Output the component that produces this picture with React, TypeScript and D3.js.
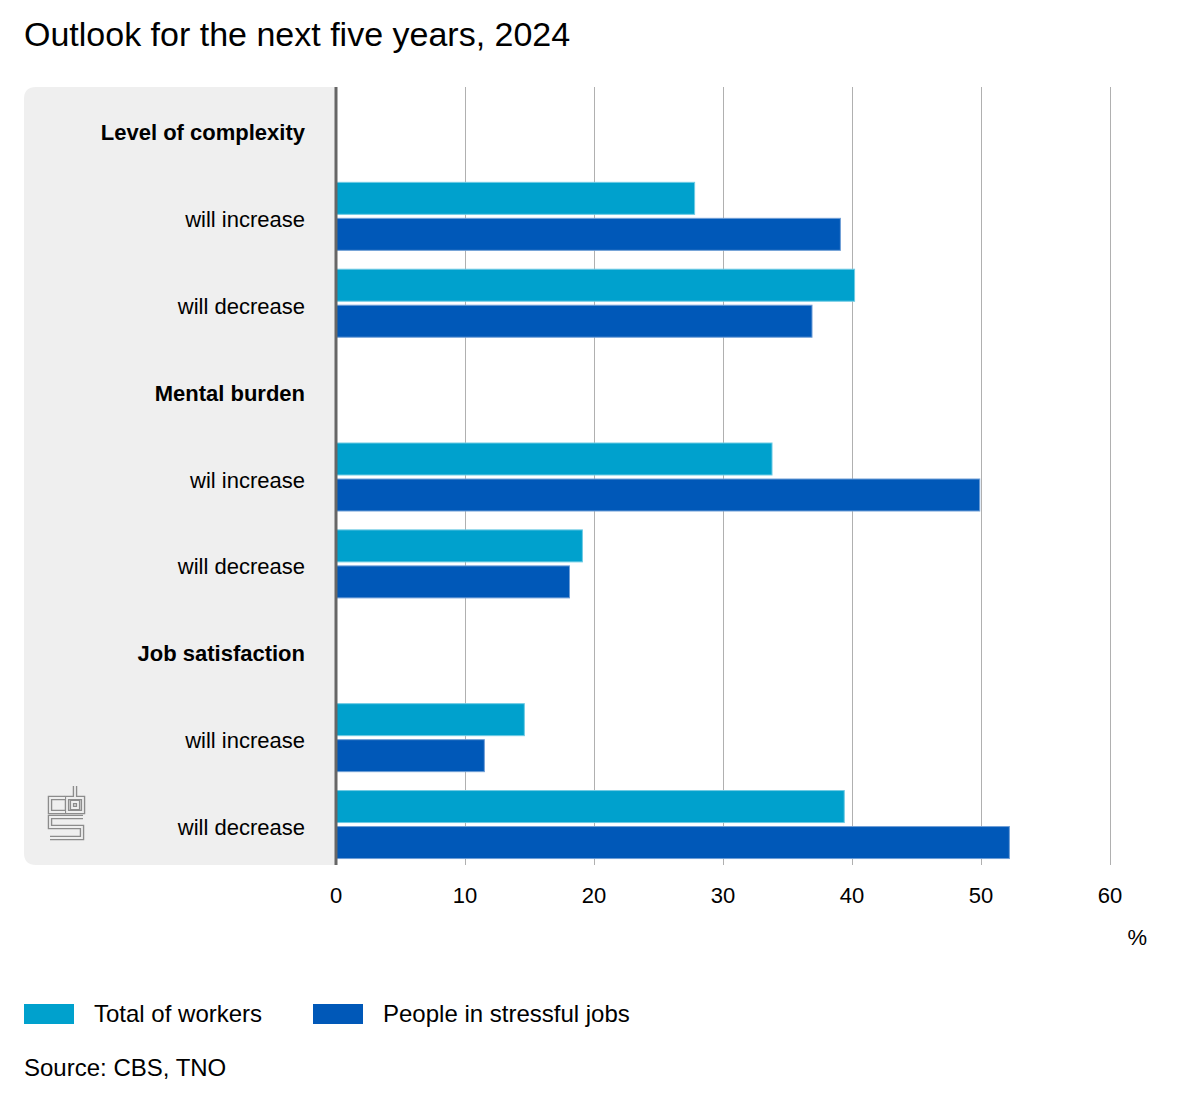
import { useEffect, useRef } from "react";
import * as d3 from "d3";

const rowLabels = [
  "Level of complexity",
  "will increase",
  "will decrease",
  "Mental burden",
  "wil increase",
  "will decrease",
  "Job satisfaction",
  "will increase",
  "will decrease",
];
const headerRows = [0, 3, 6];
const seriesNames = ["Total of workers", "People in stressful jobs"];
const seriesColors = ["#00a1cd", "#0058b8"];
// null for header rows
const totalWorkers = [null, 27.8, 40.2, null, 33.8, 19.1, null, 14.6, 39.4];
const stressfulJobs = [null, 39.1, 36.9, null, 49.9, 18.1, null, 11.5, 52.2];
const xTicks = [0, 10, 20, 30, 40, 50, 60];

const W = 1200;
const H = 1100;
const FONT = "'Liberation Sans', Arial, Helvetica, sans-serif";

export default function App() {
  const svgRef = useRef<SVGSVGElement>(null);

  useEffect(() => {
    if (!svgRef.current) return;
    const svg = d3.select(svgRef.current);
    svg.selectAll("*").remove();

    const panelLeft = 24;
    const plotLeft = 336;
    const plotTop = 87;
    const plotBottom = 865;

    const x = d3.scaleLinear().domain([0, 60]).range([plotLeft, 1110]);
    const rowIds = rowLabels.map((_, i) => String(i));
    const y = d3.scaleBand<string>().domain(rowIds).range([86, 868]);
    const sub = d3
      .scaleBand<string>()
      .domain(seriesNames)
      .range([-34, 34])
      .paddingInner(0.111);

    // title
    svg
      .append("text")
      .attr("x", 24)
      .attr("y", 46)
      .style("font-family", FONT)
      .style("font-size", "34px")
      .style("fill", "#000")
      .text("Outlook for the next five years, 2024");

    // grey label panel
    const r = 12;
    svg
      .append("path")
      .attr(
        "d",
        `M${plotLeft},${plotTop} H${panelLeft + r} Q${panelLeft},${plotTop} ${panelLeft},${plotTop + r} V${plotBottom - r} Q${panelLeft},${plotBottom} ${panelLeft + r},${plotBottom} H${plotLeft} Z`
      )
      .attr("fill", "#efefef");

    // gridlines
    svg
      .append("g")
      .selectAll("line")
      .data(xTicks.filter((t) => t > 0))
      .join("line")
      .attr("x1", (d) => Math.round(x(d)) + 0.5)
      .attr("x2", (d) => Math.round(x(d)) + 0.5)
      .attr("y1", plotTop)
      .attr("y2", plotBottom)
      .attr("stroke", "#b0b0b0")
      .attr("stroke-width", 1);

    // bars
    const series = [totalWorkers, stressfulJobs];
    series.forEach((vals, si) => {
      svg
        .append("g")
        .selectAll("rect")
        .data(vals.map((v, i) => ({ v, i })).filter((d) => d.v !== null))
        .join("rect")
        .attr("x", x(0))
        .attr("y", (d) => (y(String(d.i)) || 0) + y.bandwidth() / 2 + (sub(seriesNames[si]) || 0))
        .attr("width", (d) => x(d.v as number) - x(0))
        .attr("height", sub.bandwidth())
        .attr("fill", seriesColors[si])
        .attr("stroke", si === 0 ? "#6fcbe4" : "#6f9ed6")
        .attr("stroke-width", 1);
    });

    // axis line
    svg
      .append("line")
      .attr("x1", plotLeft)
      .attr("x2", plotLeft)
      .attr("y1", plotTop)
      .attr("y2", plotBottom)
      .attr("stroke", "#666")
      .attr("stroke-width", 3);

    // row labels
    svg
      .append("g")
      .selectAll("text")
      .data(rowLabels)
      .join("text")
      .attr("x", 305)
      .attr("y", (_, i) => (y(String(i)) || 0) + y.bandwidth() / 2 + 3)
      .attr("text-anchor", "end")
      .attr("dominant-baseline", "central")
      .style("font-family", FONT)
      .style("font-size", "22px")
      .style("font-weight", (_, i) => (headerRows.includes(i) ? "bold" : "normal"))
      .style("fill", "#000")
      .text((d) => d);

    // x tick labels
    svg
      .append("g")
      .selectAll("text")
      .data(xTicks)
      .join("text")
      .attr("x", (d) => x(d))
      .attr("y", 895)
      .attr("text-anchor", "middle")
      .attr("dominant-baseline", "central")
      .style("font-family", FONT)
      .style("font-size", "22px")
      .style("fill", "#000")
      .text((d) => d);

    svg
      .append("text")
      .attr("x", 1147)
      .attr("y", 937)
      .attr("text-anchor", "end")
      .attr("dominant-baseline", "central")
      .style("font-family", FONT)
      .style("font-size", "22px")
      .style("fill", "#000")
      .text("%");

    // logo
    const logo = svg.append("g").attr("transform", "translate(48,785)");
    const logoPaths = [
      "M17,13 H2 V27 H17",
      "M27,1 V13 H35 V27 H19 V13 H27",
      "M24,17 H30 V23 H24 Z",
      "M35,32 H2 V42 H34 V53 H2",
    ];
    logoPaths.forEach((p) => {
      logo.append("path").attr("d", p).attr("fill", "none").attr("stroke", "#8c8c8c").attr("stroke-width", 4.5);
    });
    logoPaths.forEach((p) => {
      logo.append("path").attr("d", p).attr("fill", "none").attr("stroke", "#efefef").attr("stroke-width", 1.8);
    });

    // legend
    const legendX = [24, 313];
    seriesNames.forEach((name, i) => {
      svg
        .append("rect")
        .attr("x", legendX[i])
        .attr("y", 1004)
        .attr("width", 50)
        .attr("height", 20)
        .attr("fill", seriesColors[i]);
      svg
        .append("text")
        .attr("x", legendX[i] + 70)
        .attr("y", 1013)
        .attr("dominant-baseline", "central")
        .style("font-family", FONT)
        .style("font-size", "24px")
        .style("fill", "#000")
        .text(name);
    });

    svg
      .append("text")
      .attr("x", 24)
      .attr("y", 1067)
      .attr("dominant-baseline", "central")
      .style("font-family", FONT)
      .style("font-size", "24px")
      .style("fill", "#000")
      .text("Source: CBS, TNO");
  }, []);

  return (
    <svg
      ref={svgRef}
      width={W}
      height={H}
      style={{ position: "absolute", left: 0, top: 0, background: "#fff" }}
    />
  );
}
